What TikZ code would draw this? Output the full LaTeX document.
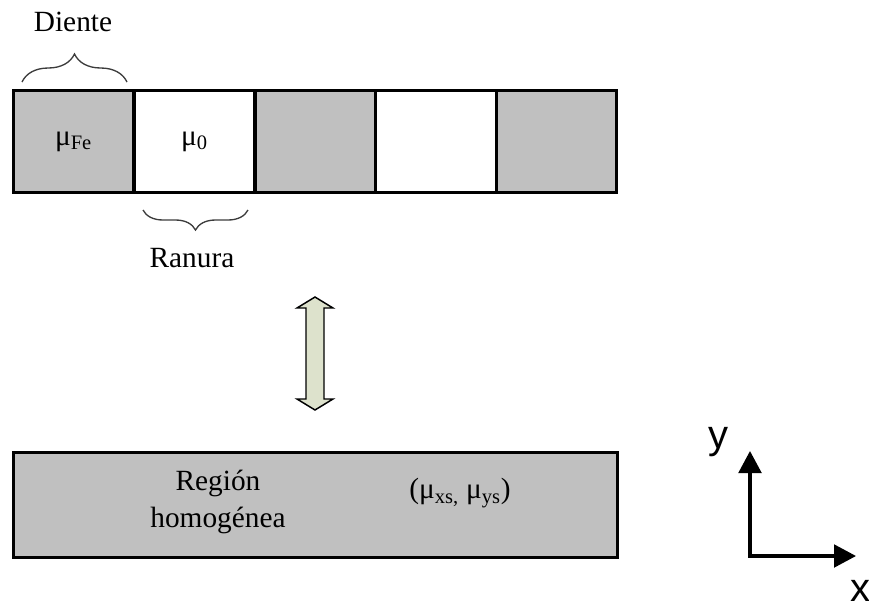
\documentclass[tikz,border=0pt]{standalone}
\usepackage{fontspec}
\setmainfont{Liberation Serif}
\newfontfamily\axisfont{Liberation Sans}
\usetikzlibrary{arrows.meta,decorations.pathreplacing}
\definecolor{cellgray}{RGB}{192,192,192}
\definecolor{arrowfill}{RGB}{221,226,204}
\definecolor{bracecol}{RGB}{60,60,60}
\tikzset{
  cellbox/.style={draw=black, line width=2.25pt, minimum width=90.6pt, minimum height=77.2pt, inner sep=0pt, font=\fontsize{22}{26}\selectfont},
  label/.style={inner sep=0pt, font=\fontsize{22}{26}\selectfont},
  bracedeco/.style={draw=bracecol, line width=1pt, decorate},
  axis/.style={line width=2.4pt, -{Triangle[length=16.5pt,width=17pt]}},
  axislabel/.style={inner sep=0pt, font=\axisfont\fontsize{30}{32}\selectfont}
}
\begin{document}
\begin{tikzpicture}[x=0.75pt,y=-0.75pt]
\useasboundingbox (0,0) rectangle (869,608);
% top strip
\node[cellbox, fill=cellgray] (c1) at (73.5,141.5) {μ\textsubscript{Fe}};
\node[cellbox, fill=white] (c2) at (194.5,141.5) {μ\textsubscript{0}};
\node[cellbox, fill=cellgray] (c3) at (315.5,141.5) {};
\node[cellbox, fill=white] (c4) at (436,141.5) {};
\node[cellbox, fill=cellgray] (c5) at (556.5,141.5) {};
% braces
\coordinate (d1) at (22,82);
\coordinate (d2) at (127,82);
\draw[bracedeco, decoration={brace, amplitude=21pt}] (d1) -- (d2);
\node[label] (diente) at (73,22) {Diente};
\coordinate (r1) at (143,210);
\coordinate (r2) at (248,210);
\draw[bracedeco, decoration={brace, mirror, amplitude=15pt}] (r1) -- (r2);
\node[label] (ranura) at (192,258) {Ranura};
% double arrow
\draw[line width=1.1pt, fill=arrowfill, line join=miter]
  (315,297) -- (333,308) -- (324,308) -- (324,399) -- (333,399) -- (315,410)
  -- (297,399) -- (306,399) -- (306,308) -- (297,308) -- cycle;
% bottom region
\node[draw=black, line width=2.25pt, fill=cellgray, minimum width=453pt, minimum height=78.75pt, inner sep=0pt] (region) at (315,504.5) {};
\node[label, align=center, font=\fontsize{22}{27.5}\selectfont] (regtext) at (218,502) {Región\\homogénea};
\node[label] (mus) at (460,493) {(μ\textsubscript{xs,} μ\textsubscript{ys})};
% axes
\coordinate (O) at (750,556);
\coordinate (Y) at (750,451);
\coordinate (X) at (856,556);
\draw[axis] (O) -- (Y);
\draw[axis] ([xshift=-1.2pt]O) -- (X);
\node[axislabel] (ylab) at (718,442) {y};
\node[axislabel] (xlab) at (860,591) {x};
\end{tikzpicture}
\end{document}
